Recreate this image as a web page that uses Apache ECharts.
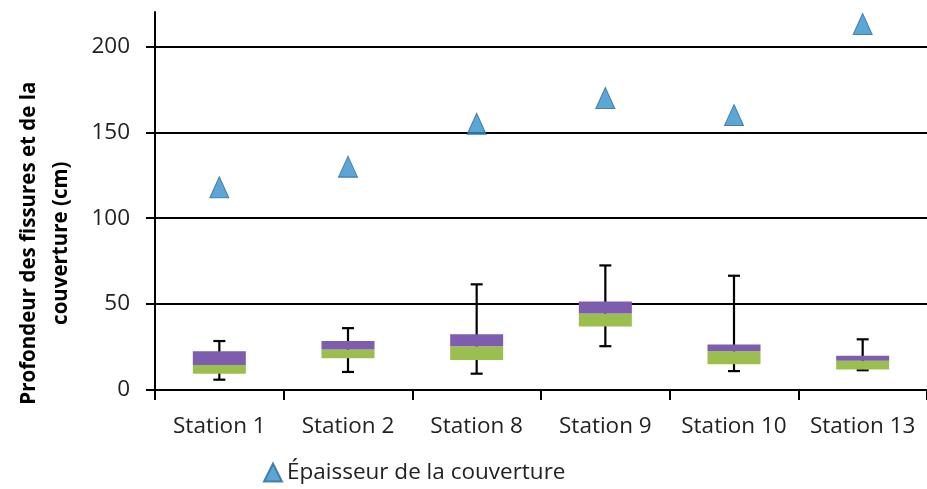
<!DOCTYPE html>
<html>
<head>
<meta charset="utf-8">
<script src="https://cdn.jsdelivr.net/npm/echarts@6/dist/echarts.min.js"></script>
<style>
  html, body { margin: 0; padding: 0; background: #fff; }
  #chart { width: 927px; height: 489px; }
</style>
</head>
<body>
<div id="chart"></div>
<script>
// stations (x categories)
const stations = ['Station 1', 'Station 2', 'Station 8', 'Station 9', 'Station 10', 'Station 13']
// épaisseur de la couverture (triangles)
const epaisseur = [118, 130, 155, 170, 160, 213]
// profondeur des fissures : moustaches et boîte
const minDepth = [6, 10.5, 9.5, 25.5, 11, 11.5]
const q1Depth = [9.5, 18.5, 17.5, 37, 15, 12]
const medianDepth = [14.5, 23.5, 25.5, 44.5, 22.5, 17]
const q3Depth = [22.5, 28.5, 32.5, 51.5, 26.5, 20]
const maxDepth = [28.5, 36, 61.5, 72.5, 66.5, 29.5]
const yTicks = [0, 50, 100, 150, 200]

const FONT = '"Open Sans", sans-serif'
const BLACK = '#000'

const chart = echarts.init(document.getElementById('chart'))

// segments empilés de la boîte
const greenPart = medianDepth.map((m, i) => m - q1Depth[i])
const purplePart = q3Depth.map((q, i) => q - medianDepth[i])
const whiskers = stations.map((s, i) => [i, minDepth[i], maxDepth[i]])

const renderWhisker = (params, api) => {
  const lo = api.coord([api.value(0), api.value(1)])
  const hi = api.coord([api.value(0), api.value(2)])
  const cap = 6
  const style = { stroke: BLACK, lineWidth: 2.2 }
  return {
    type: 'group',
    children: [
      { type: 'line', shape: { x1: lo[0], y1: lo[1], x2: hi[0], y2: hi[1] }, style },
      { type: 'line', shape: { x1: lo[0] - cap, y1: lo[1], x2: lo[0] + cap, y2: lo[1] }, style },
      { type: 'line', shape: { x1: hi[0] - cap, y1: hi[1], x2: hi[0] + cap, y2: hi[1] }, style }
    ]
  }
}

const option = {
  animation: false,
  textStyle: { fontFamily: FONT },
  grid: [
    // zone des données (l'axe monte jusqu'à 220)
    { left: 155, right: 0, top: 12, bottom: 99 },
    // zone des graduations 0..200
    { left: 155, right: 0, top: 46.36, bottom: 99 }
  ],
  legend: {
    data: ['Épaisseur de la couverture'],
    left: 258,
    top: 456,
    itemWidth: 18,
    itemHeight: 18,
    itemGap: 6,
    textStyle: { fontFamily: FONT, fontSize: 22.5, color: '#222' }
  },
  xAxis: [
    {
      type: 'category',
      gridIndex: 0,
      data: stations,
      axisLine: { lineStyle: { color: BLACK, width: 2 } },
      axisTick: { show: true, interval: 0, length: 10, lineStyle: { color: BLACK, width: 2 } },
      axisLabel: { interval: 0, fontSize: 22.5, color: '#222', margin: 25, fontFamily: FONT },
      splitLine: { show: false }
    },
    {
      type: 'category',
      gridIndex: 1,
      data: stations,
      show: false
    }
  ],
  yAxis: [
    {
      type: 'value',
      gridIndex: 0,
      min: 0,
      max: 220,
      axisLine: { show: true, lineStyle: { color: BLACK, width: 2 } },
      axisTick: { show: false },
      axisLabel: { show: false },
      splitLine: { show: false }
    },
    {
      type: 'value',
      gridIndex: 1,
      min: yTicks[0],
      max: yTicks[yTicks.length - 1],
      interval: 50,
      name: 'Profondeur des fissures et de la\ncouverture (cm)',
      nameLocation: 'middle',
      nameGap: 78,
      nameTextStyle: {
        fontFamily: FONT,
        fontSize: 20.5,
        fontWeight: 'bold',
        color: '#000',
        lineHeight: 32,
        padding: [0, 0, 0, -50]
      },
      axisLine: { show: false },
      axisTick: { show: true, length: 9, lineStyle: { color: BLACK, width: 2 } },
      axisLabel: { fontSize: 22.5, color: '#222', margin: 25, fontFamily: FONT },
      splitLine: { show: true, lineStyle: { color: BLACK, width: 2 } }
    }
  ],
  series: [
    {
      type: 'custom',
      name: 'moustaches',
      xAxisIndex: 0,
      yAxisIndex: 0,
      renderItem: renderWhisker,
      data: whiskers,
      z: 1
    },
    {
      type: 'bar',
      name: 'base',
      stack: 'box',
      xAxisIndex: 0,
      yAxisIndex: 0,
      barWidth: 53,
      itemStyle: { color: 'transparent' },
      data: q1Depth,
      z: 2
    },
    {
      type: 'bar',
      name: 'q1-médiane',
      stack: 'box',
      xAxisIndex: 0,
      yAxisIndex: 0,
      barWidth: 53,
      itemStyle: { color: '#9BBF4E' },
      data: greenPart,
      z: 2
    },
    {
      type: 'bar',
      name: 'médiane-q3',
      stack: 'box',
      xAxisIndex: 0,
      yAxisIndex: 0,
      barWidth: 53,
      itemStyle: { color: '#7E5CAE' },
      data: purplePart,
      z: 2
    },
    {
      type: 'scatter',
      name: 'Épaisseur de la couverture',
      xAxisIndex: 0,
      yAxisIndex: 0,
      symbol: 'triangle',
      symbolSize: [19, 21],
      clip: false,
      itemStyle: { color: '#3290CB', borderColor: '#2A6C9C', borderWidth: 1 },
      data: epaisseur,
      z: 3
    }
  ]
}

chart.setOption(option)
</script>
</body>
</html>
